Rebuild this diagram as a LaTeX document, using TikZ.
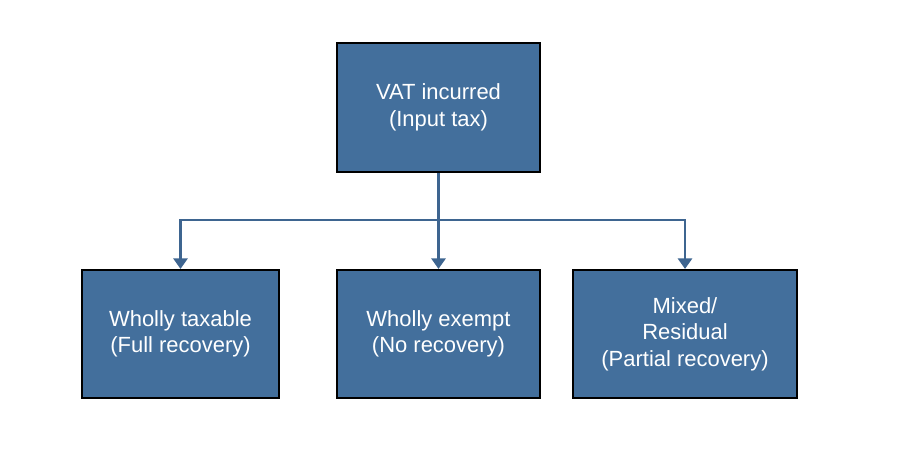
\documentclass[tikz,border=0pt]{standalone}
\usepackage{fontspec}
\setmainfont{Liberation Sans}
\usetikzlibrary{arrows.meta}
\definecolor{boxblue}{HTML}{436F9C}
\definecolor{linkblue}{HTML}{3E6590}
\begin{document}
\begin{tikzpicture}[x=0.02cm,y=-0.02cm]
\tikzset{box/.style={draw=black,line width=1.2pt,fill=boxblue,text=white,align=center,
  font=\fontsize{12.5pt}{15pt}\selectfont,inner sep=0pt},
  link/.style={draw=linkblue,line width=1.6pt,-{Triangle[length=6pt,width=8pt]}}}
\useasboundingbox (0,0) rectangle (898,462);
\node [box,minimum width=203*0.02cm,minimum height=129*0.02cm] (vat) at (438.5,107.5) {VAT incurred\\(Input tax)};
\node [box,minimum width=197*0.02cm,minimum height=128*0.02cm] (tax) at (180.5,334) {Wholly taxable\\(Full recovery)};
\node [box,minimum width=203*0.02cm,minimum height=128*0.02cm] (exe) at (438.5,334) {Wholly exempt\\(No recovery)};
\node [box,minimum width=224*0.02cm,minimum height=128*0.02cm] (mix) at (685,334) {Mixed/\\Residual\\(Partial recovery)};
\coordinate (split) at (438.5,220);
\draw [link] (vat.south) -- (exe.north);
\draw [link] (split) -| (tax.north);
\draw [link] (split) -| (mix.north);
\end{tikzpicture}
\end{document}
